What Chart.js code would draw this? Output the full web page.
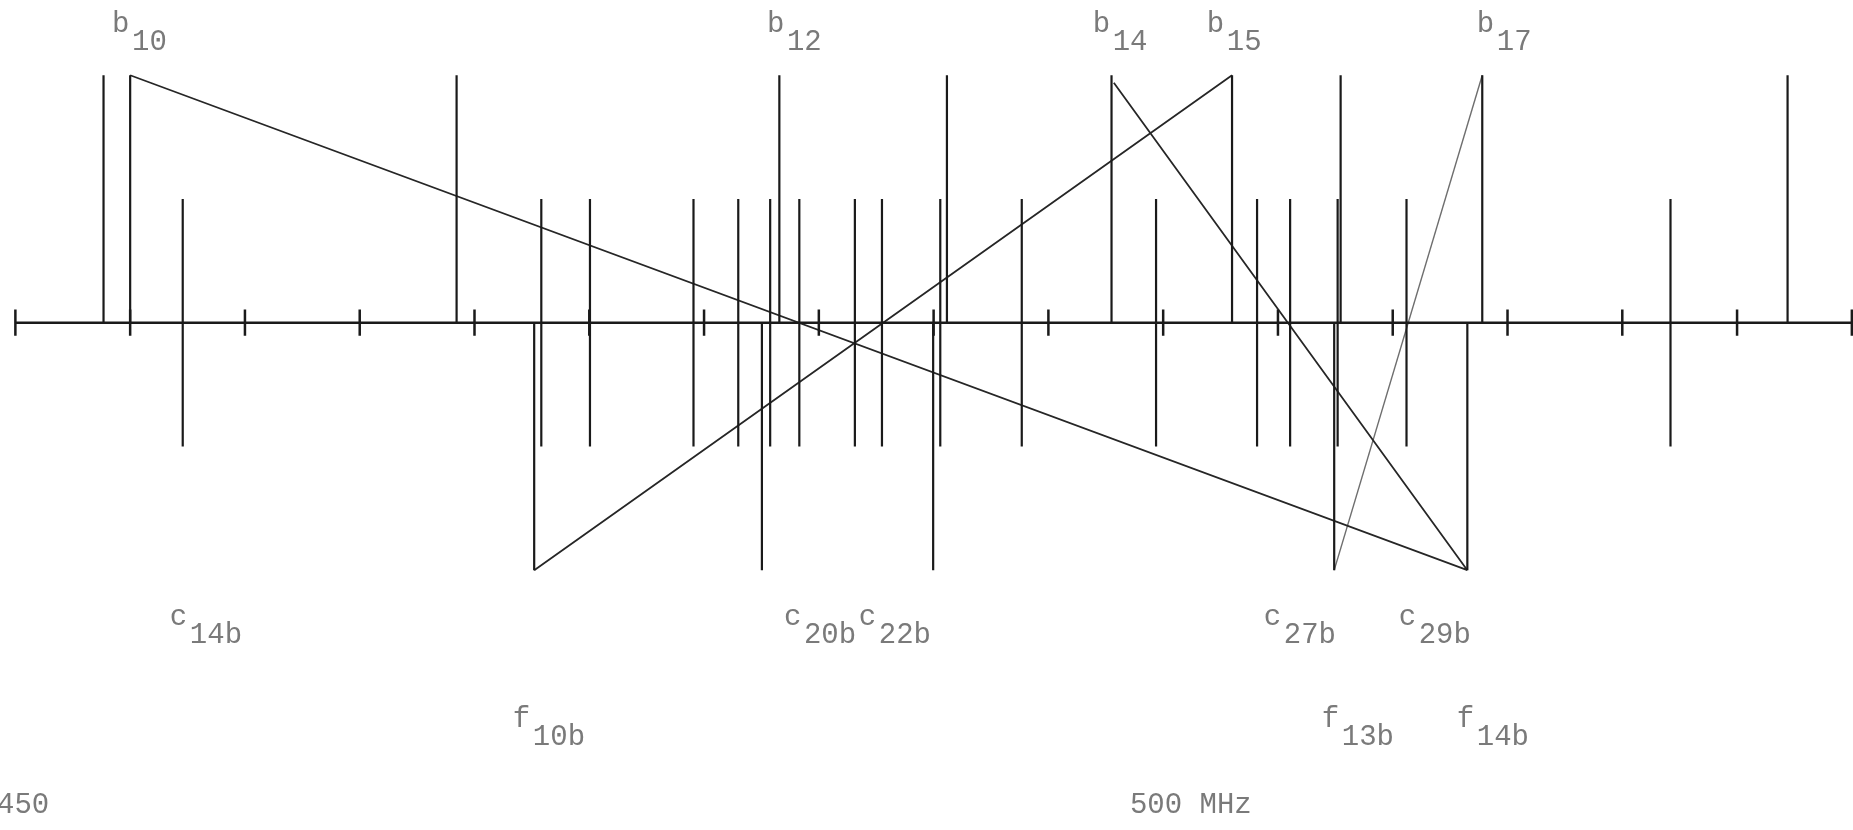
<!DOCTYPE html>
<html>
<head>
    <title>Stick spectrum 450 - 530 MHz</title>
    <style>
        body {
            margin: 0;
            background: #fff;
        }
        .container {
            width: 1853px;
            height: 830px;
        }
    </style>
</head>
<body>
    <div class="container">
        <canvas id="spectrumChart"></canvas>
    </div>

    <script src="https://cdn.jsdelivr.net/npm/chart.js"></script>
    <script>
        // frequencies in MHz
        const tallLines = [453.84, 455.0, 469.22, 483.28, 490.58, 497.75, 503.0, 507.73, 513.9, 527.2];
        const midLines = [457.29, 472.91, 475.03, 479.54, 481.49, 482.88, 484.15, 486.57, 487.75,
                          490.29, 493.84, 499.69, 504.09, 505.53, 507.6, 510.6, 522.1];
        const deepLines = [472.6, 482.52, 489.98, 507.45, 513.25];
        const tickMHz = [450, 455, 460, 465, 470, 475, 480, 485, 490, 495, 500, 505, 510, 515, 520, 525, 530];

        // relative heights of the three kinds of line
        const tallHeight = 1;
        const midHeight = 0.5;
        const deepHeight = -1;

        // connecting lines: [x1, y1, x2, y2]
        const links = [
            [455.0, 1, 513.25, -1],
            [472.6, -1, 503.0, 1],
            [497.85, 0.97, 513.25, -1]
        ];
        const lightLinks = [
            [507.45, -1, 513.9, 1]
        ];

        // labels: main letter, subscript, x (MHz), y (level)
        const labelMain = ['b', 'b', 'b', 'b', 'b', 'c', 'c', 'c', 'c', 'c', 'f', 'f', 'f'];
        const labelSub = ['10', '12', '14', '15', '17', '14b', '20b', '22b', '27b', '29b', '10b', '13b', '14b'];
        const labelX = [454.21, 482.74, 496.93, 501.90, 513.66, 456.73, 483.48, 486.74, 504.38, 510.26, 471.67, 506.91, 512.79];
        const labelY = [1.1745, 1.1745, 1.1745, 1.1745, 1.1745, -1.2234, -1.2234, -1.2234, -1.2234, -1.2234, -1.634, -1.634, -1.634];

        // axis captions
        const axisText = ['450', '500 MHz'];
        const axisTextX = [449.2, 498.55];
        const axisTextY = -1.982;

        function sticks(xs, y0, y1) {
            const pts = [];
            xs.forEach(x => {
                pts.push({x: x, y: y0}, {x: x, y: y1}, {x: x, y: null});
            });
            return pts;
        }

        function segments(list) {
            const pts = [];
            list.forEach(s => {
                pts.push({x: s[0], y: s[1]}, {x: s[2], y: s[3]}, {x: s[2], y: null});
            });
            return pts;
        }

        const ink = '#1a1a1a';
        const textGrey = '#7a7a7a';

        function lineSet(data, color, width) {
            return {
                data: data,
                showLine: true,
                borderColor: color,
                borderWidth: width,
                pointRadius: 0,
                spanGaps: false
            };
        }

        const labelPlugin = {
            id: 'labels',
            afterDatasetsDraw(chart) {
                const ctx = chart.ctx;
                const xs = chart.scales.x;
                const ys = chart.scales.y;
                ctx.save();
                ctx.fillStyle = textGrey;
                ctx.font = '29px "Liberation Mono", "DejaVu Sans Mono", monospace';
                ctx.textBaseline = 'alphabetic';
                ctx.textAlign = 'left';
                labelMain.forEach((m, i) => {
                    const px = xs.getPixelForValue(labelX[i]);
                    const py = ys.getPixelForValue(labelY[i]);
                    ctx.fillText(m, px, py);
                    ctx.fillText(labelSub[i], px + 20, py + 18);
                });
                axisText.forEach((t, i) => {
                    ctx.fillText(t, xs.getPixelForValue(axisTextX[i]), ys.getPixelForValue(axisTextY));
                });
                ctx.restore();
            }
        };

        const ctx = document.getElementById('spectrumChart').getContext('2d');
        const chart = new Chart(ctx, {
            type: 'scatter',
            data: {
                datasets: [
                    lineSet([{x: 450, y: 0}, {x: 531, y: 0}], ink, 2.5),
                    lineSet(sticks(tickMHz, -0.053, 0.053), ink, 2.5),
                    lineSet(sticks(tallLines, 0, tallHeight), ink, 2.2),
                    lineSet(sticks(midLines, -midHeight, midHeight), ink, 2.2),
                    lineSet(sticks(deepLines, 0, deepHeight), ink, 2.2),
                    lineSet(segments(links), '#262626', 1.8),
                    lineSet(segments(lightLinks), '#6e6e6e', 1.4)
                ]
            },
            options: {
                responsive: true,
                maintainAspectRatio: false,
                animation: false,
                layout: { padding: 0 },
                plugins: {
                    legend: { display: false },
                    tooltip: { enabled: false }
                },
                scales: {
                    x: { type: 'linear', min: 449.33, max: 530.05, display: false },
                    y: { type: 'linear', min: -2.05, max: 1.304, display: false }
                }
            },
            plugins: [labelPlugin]
        });
    </script>
</body>
</html>
